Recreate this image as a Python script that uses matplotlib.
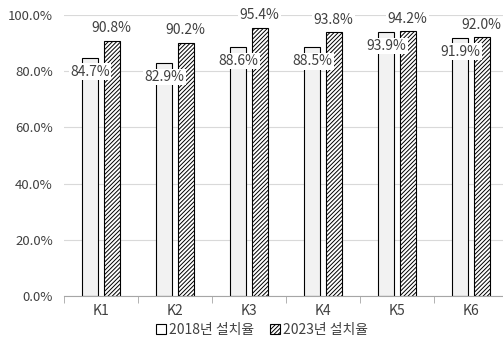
import matplotlib.pyplot as plt
from matplotlib.patches import Patch
from matplotlib.ticker import FuncFormatter, MultipleLocator
import numpy as np

plt.rcParams['font.family'] = ['Noto Sans CJK KR', 'DejaVu Sans']
plt.rcParams['hatch.linewidth'] = 0.7

categories = ['K1', 'K2', 'K3', 'K4', 'K5', 'K6']
rate_2018 = [84.7, 82.9, 88.6, 88.5, 93.9, 91.9]
rate_2023 = [90.8, 90.2, 95.4, 93.8, 94.2, 92.0]
series_names = ['2018년 설치율', '2023년 설치율']

fig = plt.figure(figsize=(5.03, 3.39), dpi=100)
ax = fig.add_axes([64 / 503, 1 - 296 / 339, 444 / 503, 281 / 339])

x = np.arange(len(categories))
w = 0.22
off = 0.145
txt_color = '#404040'

b1 = ax.bar(x - off, rate_2018, w, color='#f2f2f2', edgecolor='black', linewidth=0.8, zorder=2)
b2 = ax.bar(x + off, rate_2023, w, color='white', edgecolor='black', hatch='////////',
            linewidth=0.8, zorder=2)

box = dict(boxstyle='square,pad=0.1', facecolor='white', edgecolor='none')
for xi, v in zip(x, rate_2018):
    ax.annotate(f'{v:.1f}%', (xi - off, v), xytext=(0, -10), textcoords='offset points',
                ha='center', va='center', fontsize=10, color=txt_color, bbox=box, zorder=3)
for xi, v in zip(x, rate_2023):
    ax.annotate(f'{v:.1f}%', (xi + off, v), xytext=(0, 9), textcoords='offset points',
                ha='center', va='center', fontsize=10, color=txt_color, bbox=box, zorder=3)

ax.set_xlim(-0.5, len(categories) - 0.5)
ax.set_ylim(0, 100)
ax.yaxis.set_major_locator(MultipleLocator(20))
ax.yaxis.set_major_formatter(FuncFormatter(lambda v, p: f'{v:.1f}%'))
ax.grid(axis='y', color='#d9d9d9', linewidth=0.8, zorder=0)
ax.set_axisbelow(True)

ax.set_xticks(x)
ax.set_xticklabels(categories)
ax.set_xticks(np.arange(len(categories) + 1) - 0.5, minor=True)
ax.tick_params(axis='x', which='major', length=0, pad=6, labelsize=10, labelcolor=txt_color)
ax.tick_params(axis='x', which='minor', length=5, color='#a6a6a6', direction='out')
ax.tick_params(axis='y', length=0, pad=8, labelsize=9.5, labelcolor=txt_color)

for s in ['top', 'right', 'left']:
    ax.spines[s].set_visible(False)
ax.spines['bottom'].set_color('#a6a6a6')

handles = [Patch(facecolor='white', edgecolor='black', linewidth=0.8),
           Patch(facecolor='white', edgecolor='black', hatch='////////', linewidth=0.8)]
fig.legend(handles, series_names, loc='center', bbox_to_anchor=(262 / 503, 1 - 330 / 339),
           ncol=2, frameon=False, fontsize=10, handlelength=0.7, handleheight=0.7,
           handletextpad=0.2, columnspacing=1.2, labelcolor=txt_color)

fig.savefig('out.png', dpi=100)
